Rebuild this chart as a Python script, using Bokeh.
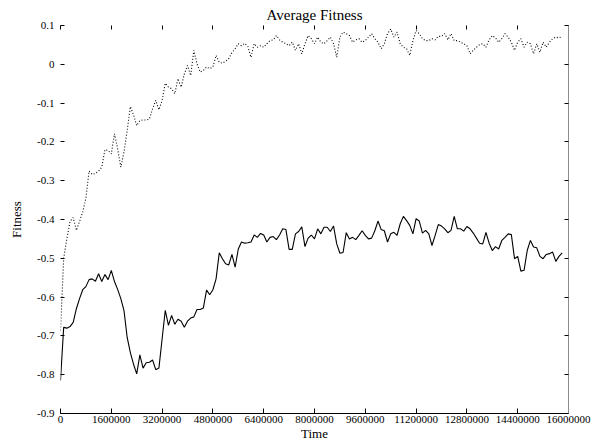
from bokeh.plotting import figure
from bokeh.models import Range1d, FixedTicker, LinearAxis
from bokeh.embed import file_html
from bokeh.resources import INLINE

step = 100000

# dotted series
fitness_dotted = [
    -0.686, -0.50, -0.45, -0.405, -0.395, -0.428, -0.405, -0.38, -0.345, -0.275,
    -0.284, -0.281, -0.275, -0.265, -0.220, -0.222, -0.231, -0.179, -0.218, -0.265,
    -0.226, -0.171, -0.109, -0.130, -0.158, -0.145, -0.143, -0.144, -0.141, -0.115,
    -0.093, -0.117, -0.093, -0.049, -0.059, -0.063, -0.076, -0.037, -0.059, -0.025,
    -0.003, -0.029, 0.036, 0.001, -0.020, -0.016, -0.007, -0.011, -0.007, 0.023,
    0.005, 0.003, 0.008, 0.015, 0.030, 0.040, 0.053, 0.048, 0.054, 0.046,
    0.018, 0.053, 0.044, 0.048, 0.044, 0.053, 0.061, 0.063, 0.074, 0.063,
    0.057, 0.053, 0.048, 0.057, 0.036, 0.053, 0.027, 0.053, 0.074, 0.066,
    0.053, 0.070, 0.057, 0.053, 0.061, 0.070, 0.053, 0.018, 0.070, 0.083,
    0.079, 0.074, 0.057, 0.063, 0.066, 0.057, 0.061, 0.070, 0.079, 0.066,
    0.057, 0.040, 0.053, 0.079, 0.091, 0.070, 0.083, 0.053, 0.044, 0.040,
    0.023, 0.061, 0.087, 0.079, 0.066, 0.061, 0.061, 0.066, 0.063, 0.072,
    0.072, 0.079, 0.063, 0.079, 0.061, 0.061, 0.057, 0.053, 0.048, 0.027,
    0.036, 0.044, 0.051, 0.053, 0.044, 0.063, 0.074, 0.068, 0.057, 0.066,
    0.079, 0.070, 0.057, 0.036, 0.057, 0.066, 0.044, 0.057, 0.053, 0.027,
    0.053, 0.031, 0.057, 0.044, 0.057, 0.066, 0.070, 0.068, 0.072,
]

# solid series
fitness_solid = [
    -0.815, -0.678, -0.680, -0.676, -0.665, -0.630, -0.604, -0.581, -0.573, -0.555,
    -0.553, -0.559, -0.540, -0.560, -0.542, -0.555, -0.531, -0.560, -0.580, -0.604,
    -0.635, -0.704, -0.743, -0.773, -0.798, -0.749, -0.783, -0.769, -0.768, -0.762,
    -0.787, -0.783, -0.708, -0.634, -0.673, -0.647, -0.670, -0.657, -0.662, -0.678,
    -0.662, -0.654, -0.651, -0.632, -0.632, -0.628, -0.582, -0.594, -0.581, -0.553,
    -0.486, -0.501, -0.514, -0.517, -0.490, -0.523, -0.476, -0.458, -0.461, -0.460,
    -0.458, -0.440, -0.446, -0.436, -0.440, -0.458, -0.446, -0.444, -0.452, -0.440,
    -0.424, -0.426, -0.477, -0.477, -0.437, -0.431, -0.419, -0.470, -0.448, -0.440,
    -0.450, -0.424, -0.437, -0.420, -0.420, -0.431, -0.417, -0.463, -0.487, -0.485,
    -0.434, -0.450, -0.446, -0.452, -0.441, -0.429, -0.441, -0.450, -0.448, -0.429,
    -0.404, -0.426, -0.429, -0.458, -0.437, -0.433, -0.441, -0.411, -0.392, -0.403,
    -0.415, -0.437, -0.398, -0.404, -0.435, -0.428, -0.437, -0.467, -0.441, -0.413,
    -0.417, -0.424, -0.434, -0.428, -0.392, -0.424, -0.424, -0.430, -0.418, -0.424,
    -0.435, -0.448, -0.461, -0.463, -0.433, -0.461, -0.480, -0.470, -0.476, -0.454,
    -0.446, -0.437, -0.439, -0.501, -0.495, -0.533, -0.531, -0.480, -0.454, -0.471,
    -0.473, -0.495, -0.501, -0.490, -0.488, -0.484, -0.508, -0.495, -0.486,
]

time = [i * step for i in range(len(fitness_solid))]

x_ticks = [0, 1600000, 3200000, 4800000, 6400000, 8000000,
           9600000, 11200000, 12800000, 14400000, 16000000]
x_labels = ["0", "1600000", "3200000", "4800000", "6400000", "8000000",
            "9600000", "11200000", "12800000", "14400000", "16000000"]
y_ticks = [0.1, 0, -0.1, -0.2, -0.3, -0.4, -0.5, -0.6, -0.7, -0.8, -0.9]
y_labels = ["0.1", "0", "-0.1", "-0.2", "-0.3", "-0.4", "-0.5", "-0.6",
            "-0.7", "-0.8", "-0.9"]

FONT = "Liberation Serif"

p = figure(width=592, height=444, output_backend="svg", toolbar_location=None,
           x_range=Range1d(0, 16000000), y_range=Range1d(-0.9, 0.1),
           x_axis_location=None, y_axis_location=None,
           min_border_left=60, min_border_right=24, min_border_top=25,
           min_border_bottom=31)
p.outline_line_color = None
p.background_fill_color = "white"
p.border_fill_color = "white"
p.grid.visible = False

p.title.text = "Average Fitness"
p.title.align = "center"
p.title.text_font = FONT
p.title.text_font_size = "15px"
p.title.text_font_style = "normal"
p.title.text_color = "black"
p.title.standoff = 5


def style(ax, ticks, labels, show_labels=True):
    ax.ticker = FixedTicker(ticks=ticks)
    ax.major_tick_out = 0
    ax.major_tick_line_color = "black"
    ax.minor_tick_line_color = None
    ax.axis_label_text_font = FONT
    ax.axis_label_text_font_size = "13px"
    ax.axis_label_text_font_style = "normal"
    ax.axis_label_text_color = "black"
    ax.major_label_text_font = FONT
    if show_labels:
        ax.major_label_overrides = dict(zip(ticks, labels))
        ax.major_label_text_font_size = "11px"
        ax.major_label_text_color = "black"
    else:
        ax.major_label_text_font_size = "1px"
        ax.major_label_text_color = None
        ax.major_label_standoff = 0


bottom = LinearAxis(axis_label="Time")
style(bottom, x_ticks, x_labels)
bottom.major_tick_in = 5
bottom.axis_line_color = "black"
bottom.major_label_standoff = 2
bottom.axis_label_standoff = 0
p.add_layout(bottom, "below")

top = LinearAxis()
style(top, x_ticks, x_labels, show_labels=False)
top.major_tick_in = 4
top.axis_line_color = None
p.add_layout(top, "above")

left = LinearAxis(axis_label="Fitness")
style(left, y_ticks, y_labels)
left.major_tick_in = 4
left.axis_line_color = None
left.major_label_standoff = 6
left.axis_label_standoff = 10
p.add_layout(left, "left")

right = LinearAxis()
style(right, y_ticks, y_labels, show_labels=False)
right.major_tick_in = 4
right.axis_line_color = "#8c8c8c"
p.add_layout(right, "right")

p.line(time, fitness_solid, line_color="black", line_width=1.1)
p.line(time, fitness_dotted, line_color="black", line_width=1.1, line_dash="1 2")

open("out.html", "w").write(file_html(p, INLINE))
